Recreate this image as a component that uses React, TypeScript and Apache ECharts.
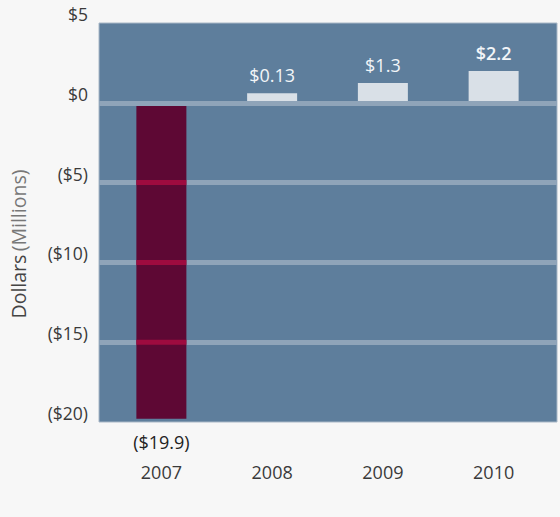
import { useEffect, useRef } from "react";
import * as echarts from "echarts";

// Chart data
const YEARS = ["2007", "2008", "2009", "2010"];
// bar heights as drawn in the picture (millions of dollars)
const VALUES = [-19.8, 0.6, 1.24, 1.99];
const VALUE_LABELS = ["($19.9)", "$0.13", "$1.3", "$2.2"];
const Y_MIN = -20;
const Y_MAX = 5;
const Y_STEP = 5;
// gridlines that cross the 2007 bar
const STRIPES: [string, number][] = [
  ["2007", -5],
  ["2007", -10],
  ["2007", -15],
];

const FONT = "Open Sans";
const PLOT_BG = "#5e7e9c";
const GRID_LINE = "#8fa4b9";
const MAROON = "#5e0834";
const CRIMSON = "#9e0b3f";
const LIGHT_BAR = "#d9e0e7";

const fmtDollar = (v: number) => (v < 0 ? `($${-v})` : `$${v}`);

export default function App() {
  const chartRef = useRef<HTMLDivElement>(null);

  useEffect(() => {
    if (!chartRef.current) return;
    const chart = echarts.init(chartRef.current, undefined, { renderer: "svg" });

    const option: echarts.EChartsOption = {
      animation: false,
      backgroundColor: "#f7f7f7",
      textStyle: { fontFamily: FONT },
      grid: [
        {
          left: 99,
          right: 3,
          top: 23,
          bottom: 95,
          show: true,
          backgroundColor: PLOT_BG,
          borderColor: "#a9b8c7",
          borderWidth: 1,
        },
        { left: 106, right: 11, top: 23, bottom: 95 },
      ],
      xAxis: [
        { type: "category", gridIndex: 0, data: [""], show: false },
        {
          type: "category",
          gridIndex: 1,
          data: YEARS,
          axisLine: { show: false },
          axisTick: { show: false },
          axisLabel: { color: "#3a3a3a", fontSize: 18, fontFamily: FONT, margin: 41 },
        },
      ],
      yAxis: [
        {
          type: "value",
          gridIndex: 0,
          min: Y_MIN,
          max: Y_MAX,
          interval: Y_STEP,
          axisLine: { show: false },
          axisTick: { show: false },
          axisLabel: {
            color: "#3a3a3a",
            fontSize: 17.5,
            fontFamily: FONT,
            margin: 11,
            verticalAlign: "bottom",
            formatter: (v: number) => fmtDollar(v),
          },
          splitLine: {
            show: true,
            showMinLine: false,
            showMaxLine: false,
            lineStyle: { color: GRID_LINE, width: 5 },
          },
        },
        { type: "value", gridIndex: 1, min: Y_MIN, max: Y_MAX, interval: Y_STEP, show: false },
      ],
      graphic: [
        {
          type: "text",
          x: 18,
          y: 244,
          rotation: Math.PI / 2,
          style: {
            text: "{a|Dollars} {b|(Millions)}",
            align: "center",
            verticalAlign: "middle",
            rich: {
              a: { fontFamily: FONT, fontSize: 19.5, fill: "#444" },
              b: { fontFamily: FONT, fontSize: 19.5, fill: "#777" },
            },
          } as any,
        },
      ],
      series: [
        {
          type: "bar",
          xAxisIndex: 1,
          yAxisIndex: 1,
          barWidth: 50,
          z: 3,
          data: VALUES.map((v, i) => ({
            value: v,
            itemStyle: { color: v < 0 ? MAROON : LIGHT_BAR },
            label: {
              show: true,
              position: v < 0 ? "bottom" : "top",
              distance: v < 0 ? 14 : 9,
              formatter: VALUE_LABELS[i],
              fontFamily: FONT,
              fontSize: 18,
              fontWeight: i === 3 ? 600 : 400,
              color: v < 0 ? "#222" : "#f2f5f8",
            },
          })),
        },
        {
          type: "custom",
          xAxisIndex: 1,
          yAxisIndex: 1,
          z: 4,
          silent: true,
          data: STRIPES,
          renderItem: (_params: any, api: any) => {
            const p = api.coord([api.value(0), api.value(1)]);
            return {
              type: "rect",
              shape: { x: p[0] - 25, y: p[1] - 2.5, width: 50, height: 5 },
              style: { fill: CRIMSON },
            };
          },
        },
        {
          type: "line",
          xAxisIndex: 0,
          yAxisIndex: 0,
          data: [],
          z: 5,
          markLine: {
            silent: true,
            symbol: "none",
            label: { show: false },
            lineStyle: { color: GRID_LINE, width: 5, type: "solid" },
            data: [{ yAxis: 0 }],
          },
        },
      ],
    };

    chart.setOption(option);
    return () => chart.dispose();
  }, []);

  return (
    <div
      ref={chartRef}
      style={{ position: "fixed", left: 0, top: 0, width: 560, height: 517 }}
    />
  );
}
